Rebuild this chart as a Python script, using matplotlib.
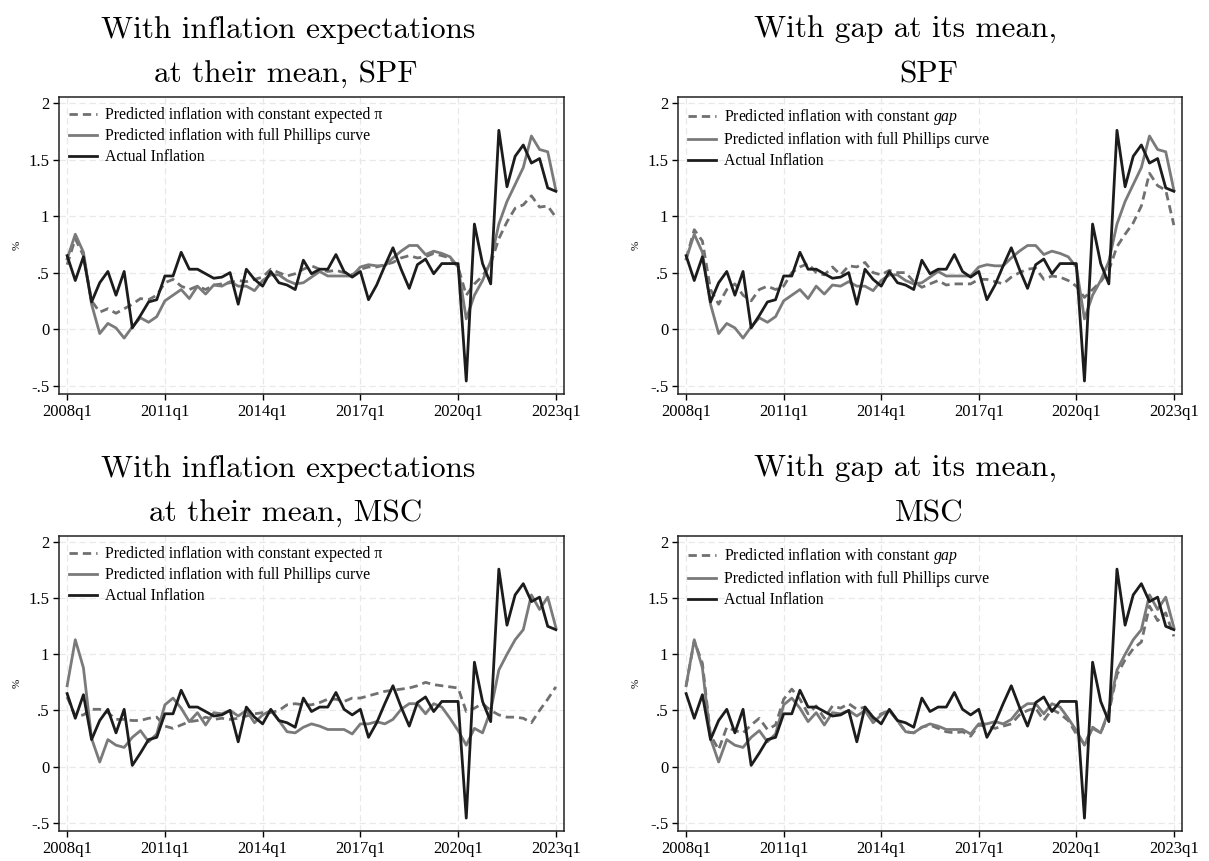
import numpy as np
import pandas as pd
import matplotlib
matplotlib.use("Agg")
import matplotlib.pyplot as plt

plt.rcParams["font.family"] = "Liberation Serif"
plt.rcParams["mathtext.fontset"] = "custom"
plt.rcParams["mathtext.rm"] = "Liberation Serif"
plt.rcParams["mathtext.it"] = "Liberation Serif:italic"

# quarters 2008q1 .. 2023q1
periods = pd.period_range("2008Q1", "2023Q1", freq="Q")
tick_labels = ["2008q1", "2011q1", "2014q1", "2017q1", "2020q1", "2023q1"]
y_ticks = [-0.5, 0, 0.5, 1, 1.5, 2]
y_tick_labels = ["-.5", "0", ".5", "1", "1.5", "2"]

actual = [0.65, 0.43, 0.64, 0.24, 0.41, 0.51, 0.30, 0.51, 0.01, 0.12, 0.24, 0.26,
          0.47, 0.47, 0.68, 0.53, 0.53, 0.49, 0.45, 0.46, 0.50, 0.22, 0.53, 0.44,
          0.38, 0.51, 0.41, 0.39, 0.35, 0.61, 0.49, 0.53, 0.53, 0.66, 0.51, 0.46,
          0.51, 0.26, 0.39, 0.56, 0.72, 0.53, 0.36, 0.57, 0.62, 0.49, 0.58, 0.58,
          0.58, -0.46, 0.93, 0.58, 0.40, 1.76, 1.26, 1.53, 1.63, 1.47, 1.51, 1.25,
          1.22]

full_spf = [0.62, 0.84, 0.68, 0.22, -0.04, 0.05, 0.01, -0.08, 0.02, 0.10, 0.06, 0.11,
            0.25, 0.30, 0.35, 0.27, 0.38, 0.31, 0.39, 0.38, 0.42, 0.38, 0.38, 0.34,
            0.43, 0.48, 0.48, 0.43, 0.40, 0.41, 0.46, 0.51, 0.47, 0.47, 0.47, 0.47,
            0.55, 0.57, 0.56, 0.56, 0.63, 0.69, 0.74, 0.74, 0.66, 0.69, 0.67, 0.64,
            0.55, 0.09, 0.30, 0.43, 0.60, 0.93, 1.13, 1.28, 1.43, 1.71, 1.59, 1.57,
            1.23]

const_pi_spf = [0.57, 0.80, 0.65, 0.25, 0.15, 0.18, 0.14, 0.18, 0.22, 0.27, 0.26, 0.30,
                0.41, 0.44, 0.38, 0.35, 0.38, 0.35, 0.39, 0.40, 0.41, 0.43, 0.42, 0.44,
                0.46, 0.53, 0.50, 0.47, 0.49, 0.53, 0.56, 0.53, 0.51, 0.52, 0.50, 0.48,
                0.53, 0.55, 0.55, 0.57, 0.59, 0.63, 0.65, 0.63, 0.64, 0.67, 0.65, 0.63,
                0.55, 0.30, 0.40, 0.47, 0.58, 0.80, 0.95, 1.07, 1.10, 1.18, 1.08, 1.09,
                0.99]

const_gap_spf = [0.62, 0.88, 0.78, 0.35, 0.22, 0.35, 0.40, 0.30, 0.25, 0.35, 0.38, 0.35,
                 0.38, 0.50, 0.55, 0.58, 0.50, 0.48, 0.55, 0.48, 0.56, 0.55, 0.59, 0.50,
                 0.48, 0.52, 0.50, 0.50, 0.42, 0.37, 0.40, 0.43, 0.39, 0.40, 0.40, 0.40,
                 0.44, 0.44, 0.42, 0.40, 0.46, 0.50, 0.53, 0.54, 0.44, 0.47, 0.46, 0.43,
                 0.38, 0.28, 0.35, 0.42, 0.52, 0.73, 0.84, 0.94, 1.09, 1.38, 1.27, 1.23,
                 0.92]

full_msc = [0.72, 1.13, 0.88, 0.25, 0.04, 0.24, 0.19, 0.17, 0.26, 0.32, 0.22, 0.29,
            0.55, 0.61, 0.52, 0.40, 0.48, 0.37, 0.48, 0.47, 0.50, 0.45, 0.50, 0.39,
            0.46, 0.50, 0.41, 0.31, 0.30, 0.35, 0.38, 0.36, 0.33, 0.33, 0.33, 0.29,
            0.38, 0.38, 0.40, 0.38, 0.42, 0.51, 0.56, 0.56, 0.47, 0.56, 0.53, 0.43,
            0.32, 0.19, 0.34, 0.30, 0.50, 0.86, 1.00, 1.13, 1.22, 1.53, 1.40, 1.51,
            1.24]

const_pi_msc = [0.62, 0.45, 0.46, 0.51, 0.51, 0.48, 0.42, 0.42, 0.41, 0.41, 0.43, 0.44,
                0.36, 0.34, 0.37, 0.40, 0.41, 0.44, 0.42, 0.43, 0.42, 0.43, 0.45, 0.47,
                0.48, 0.48, 0.50, 0.55, 0.56, 0.55, 0.55, 0.57, 0.60, 0.60, 0.58, 0.61,
                0.61, 0.63, 0.65, 0.67, 0.68, 0.69, 0.70, 0.72, 0.75, 0.73, 0.72, 0.71,
                0.70, 0.49, 0.52, 0.56, 0.50, 0.46, 0.44, 0.44, 0.43, 0.39, 0.50, 0.60,
                0.71]

const_gap_msc = [0.72, 1.12, 0.92, 0.28, 0.15, 0.35, 0.32, 0.30, 0.37, 0.43, 0.33, 0.37,
                 0.60, 0.69, 0.60, 0.47, 0.54, 0.43, 0.54, 0.52, 0.56, 0.51, 0.53, 0.42,
                 0.47, 0.50, 0.41, 0.31, 0.30, 0.35, 0.37, 0.34, 0.31, 0.30, 0.31, 0.27,
                 0.37, 0.36, 0.34, 0.36, 0.38, 0.46, 0.50, 0.52, 0.41, 0.51, 0.47, 0.41,
                 0.29, 0.20, 0.35, 0.30, 0.48, 0.82, 0.95, 1.05, 1.11, 1.43, 1.30, 1.37,
                 1.16]

lbl_pi = "Predicted inflation with constant expected \u03c0"
lbl_gap = r"Predicted inflation with constant $\mathit{gap}$"
lbl_full = "Predicted inflation with full Phillips curve"
lbl_act = "Actual Inflation"

W, H = 1209, 861
fig = plt.figure(figsize=(W / 100, H / 100), dpi=100)

x = np.arange(len(periods))
tick_pos = [i for i, p in enumerate(periods) if p.quarter == 1 and (p.year - 2008) % 3 == 0]

# (left, right, top, bottom) in px, dashed series, label, title lines, title x, title y's
panels = [
    ((59, 564, 97, 394), const_pi_spf, full_spf, lbl_pi,
     ["With inflation expectations", "at their mean, SPF"], [288, 286], [30, 75]),
    ((678, 1182, 97, 394), const_gap_spf, full_spf, lbl_gap,
     ["With gap at its mean,", "SPF"], [905, 929], [30, 75]),
    ((59, 564, 536, 831), const_pi_msc, full_msc, lbl_pi,
     ["With inflation expectations", "at their mean, MSC"], [288, 286], [469, 514]),
    ((678, 1182, 536, 831), const_gap_msc, full_msc, lbl_gap,
     ["With gap at its mean,", "MSC"], [905, 929], [469, 514]),
]

for (l, r, t, b), dashed, full, dlabel, tlines, tx, ty in panels:
    ax = fig.add_axes([l / W, 1 - b / H, (r - l) / W, (b - t) / H])
    ax.plot(x, dashed, color="#707070", lw=2.0, ls=(0, (3.0, 1.8)), label=dlabel)
    ax.plot(x, full, color="#7a7a7a", lw=2.0, label=lbl_full)
    ax.plot(x, actual, color="#1c1c1c", lw=2.0, label=lbl_act)

    ax.set_xlim(-1, 61)
    ax.set_ylim(-0.575, 2.055)
    ax.set_xticks(tick_pos)
    ax.set_xticklabels(tick_labels, fontsize=12)
    ax.set_yticks(y_ticks)
    ax.set_yticklabels(y_tick_labels, fontsize=12)
    ax.tick_params(direction="out", length=4, width=1, pad=3)
    ax.grid(True, color="#e8e8e8", ls=(0, (5, 3)), lw=0.9)
    ax.set_axisbelow(True)
    for s in ax.spines.values():
        s.set_linewidth(1.1)
        s.set_color("#222222")

    ax.set_ylabel("%", fontsize=8)
    ax.yaxis.set_label_coords(-0.075, 0.5)

    ax.legend(loc="upper left", frameon=False, fontsize=11.3, handlelength=1.8,
              handletextpad=0.5, labelspacing=0.32, borderaxespad=0.2, borderpad=0.45)

    for line, xx, yy in zip(tlines, tx, ty):
        fig.text(xx / W, 1 - yy / H, line, ha="center", va="center",
                 fontfamily="cmr10", fontsize=22.5)

fig.savefig("out.png", dpi=100)
